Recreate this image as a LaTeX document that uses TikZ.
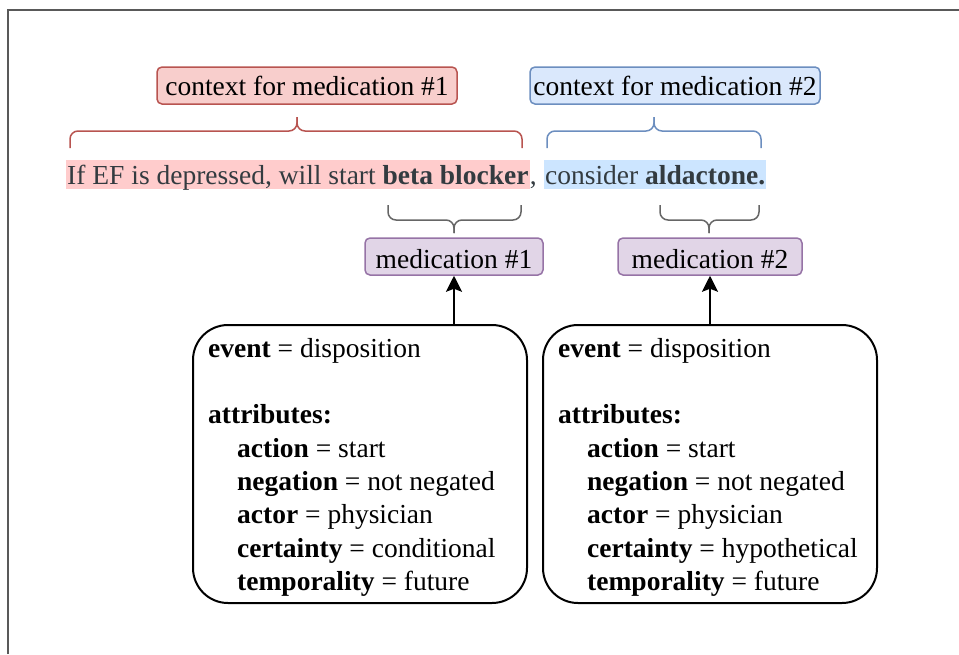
\documentclass[tikz,border=0pt]{standalone}
\usepackage{fontspec}
\setmainfont{Liberation Serif}
\usetikzlibrary{arrows.meta,positioning}

\definecolor{ctxred}{HTML}{B85450}
\definecolor{ctxredfill}{HTML}{F8CECC}
\definecolor{ctxblue}{HTML}{6C8EBF}
\definecolor{ctxbluefill}{HTML}{DAE8FC}
\definecolor{medline}{HTML}{9673A6}
\definecolor{medfill}{HTML}{E1D5E7}
\definecolor{hlred}{HTML}{FFCCCC}
\definecolor{hlblue}{HTML}{CCE5FF}
\definecolor{sentgray}{HTML}{333B40}
\definecolor{bracegray}{HTML}{666666}

\begin{document}
\begin{tikzpicture}[x=1pt,y=-1pt,font=\fontsize{27.5}{33.3}\selectfont,
    flow/.style={-{Stealth[length=16pt,width=16pt,inset=3pt]}, line width=2pt}]

        \useasboundingbox (0,0) rectangle (959,654);
        \draw[black!65, line width=1.2pt] (8,654) -- (8,10) -- (959,10);

        % context boxes
        \begin{scope}[every node/.style={rounded corners=5pt, line width=1.5pt, inner xsep=0pt, inner ysep=6pt, text height=22pt, text depth=3pt}]
          \node[draw=ctxred, fill=ctxredfill, minimum width=300pt] (ctx1) at (307,85.5) {context for medication \#1};
          \node[draw=ctxblue, fill=ctxbluefill, minimum width=290pt] (ctx2) at (675,85.5) {context for medication \#2};
        \end{scope}

        % the sentence
        \begin{scope}[every node/.style={inner xsep=1pt, inner ysep=0pt, text height=24pt, text depth=5pt, text=sentgray}]
          \node[fill=hlred, anchor=base west] (sent1) at (66,184) {If EF is depressed, will start \textbf{beta blocker}};
          \node[right=0pt of sent1, inner xsep=0pt] (comma) {,};
          \node[fill=hlblue, right=7pt of comma] (sent2) {consider \textbf{aldactone.}};
        \end{scope}

        % braces
        \begin{scope}[line width=1.5pt, rounded corners=8pt]
          \draw[ctxred]  (70,148)  |- (297,131) -- (297,117);
          \draw[ctxred]  (522,148) |- (297,131) -- (297,117);
          \draw[ctxblue] (547,148) |- (654,131) -- (654,117);
          \draw[ctxblue] (761,148) |- (654,131) -- (654,117);
          \draw[bracegray] (388,205) |- (454,220) -- (454,233);
          \draw[bracegray] (521,205) |- (454,220) -- (454,233);
          \draw[bracegray] (660,205) |- (709,220) -- (709,233);
          \draw[bracegray] (759,205) |- (709,220) -- (709,233);
        \end{scope}

        % medications
        \begin{scope}[every node/.style={draw=medline, fill=medfill, rounded corners=5pt, line width=1.5pt, inner ysep=6pt, text height=24pt, text depth=1pt}]
          \node[minimum width=178pt] (med1) at (454,256.5) {medication \#1};
          \node[minimum width=184pt] (med2) at (710,256.5) {medication \#2};
        \end{scope}

        % events
        \begin{scope}[every node/.style={draw, line width=2pt, rounded corners=35pt, minimum width=334pt, minimum height=278pt}]
          \node (ev1) at (360,464) {};
          \node (ev2) at (710,464) {};
        \end{scope}

        \begin{scope}[every node/.style={anchor=north west, inner sep=0pt, align=left}]
          \node (attr1) at (208,338) {\textbf{event} = disposition\\[33.3pt]
            \textbf{attributes:}\\
            \hspace*{29pt}\textbf{action} = start\\
            \hspace*{29pt}\textbf{negation} = not negated\\
            \hspace*{29pt}\textbf{actor} = physician\\
            \hspace*{29pt}\textbf{certainty} = conditional\\
            \hspace*{29pt}\textbf{temporality} = future};
          \node (attr2) at (558,338) {\textbf{event} = disposition\\[33.3pt]
            \textbf{attributes:}\\
            \hspace*{29pt}\textbf{action} = start\\
            \hspace*{29pt}\textbf{negation} = not negated\\
            \hspace*{29pt}\textbf{actor} = physician\\
            \hspace*{29pt}\textbf{certainty} = hypothetical\\
            \hspace*{29pt}\textbf{temporality} = future};
        \end{scope}

        \path (med1 |- ev1.north) edge[flow] (med1);
        \path (med2 |- ev2.north) edge[flow] (med2);

      \end{tikzpicture}
\end{document}
